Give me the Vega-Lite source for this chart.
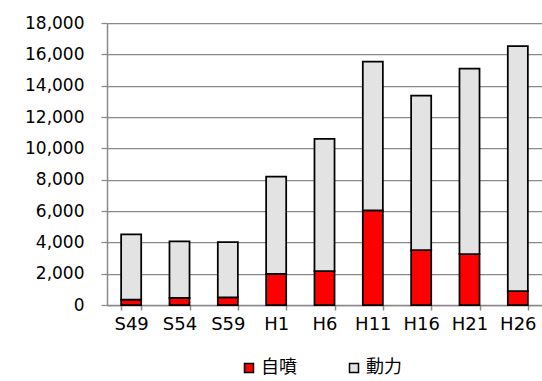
{
  "$schema": "https://vega.github.io/schema/vega-lite/v6.json",
  "width": 435,
  "height": 282,
  "autosize": {"type": "none"},
  "padding": {"left": 107, "top": 23, "right": 0, "bottom": 76},
  "background": "white",
  "data": {
    "values": [
      {"year": "S49", "type": "自噴", "ord": 0, "value": 340},
      {"year": "S49", "type": "動力", "ord": 1, "value": 4170},
      {"year": "S54", "type": "自噴", "ord": 0, "value": 450},
      {"year": "S54", "type": "動力", "ord": 1, "value": 3610},
      {"year": "S59", "type": "自噴", "ord": 0, "value": 490},
      {"year": "S59", "type": "動力", "ord": 1, "value": 3530},
      {"year": "H1", "type": "自噴", "ord": 0, "value": 1980},
      {"year": "H1", "type": "動力", "ord": 1, "value": 6210},
      {"year": "H6", "type": "自噴", "ord": 0, "value": 2170},
      {"year": "H6", "type": "動力", "ord": 1, "value": 8430},
      {"year": "H11", "type": "自噴", "ord": 0, "value": 6040},
      {"year": "H11", "type": "動力", "ord": 1, "value": 9490},
      {"year": "H16", "type": "自噴", "ord": 0, "value": 3510},
      {"year": "H16", "type": "動力", "ord": 1, "value": 9850},
      {"year": "H21", "type": "自噴", "ord": 0, "value": 3250},
      {"year": "H21", "type": "動力", "ord": 1, "value": 11840},
      {"year": "H26", "type": "自噴", "ord": 0, "value": 890},
      {"year": "H26", "type": "動力", "ord": 1, "value": 15640}
    ]
  },
  "mark": {"type": "bar", "stroke": "black", "strokeWidth": 1.75},
  "encoding": {
    "x": {
      "field": "year",
      "type": "nominal",
      "sort": ["S49", "S54", "S59", "H1", "H6", "H11", "H16", "H21", "H26"],
      "scale": {"paddingInner": 0.585, "paddingOuter": 0.2925},
      "axis": {
        "title": null,
        "labelAngle": 0,
        "labelFont": "DejaVu Sans",
        "labelFontSize": 18,
        "labelColor": "black",
        "labelPadding": 5,
        "domainColor": "#898989",
        "domainWidth": 1.5,
        "tickColor": "#898989",
        "tickWidth": 1.5,
        "tickSize": 5,
        "tickBand": "extent"
      }
    },
    "y": {
      "field": "value",
      "type": "quantitative",
      "stack": "zero",
      "scale": {"domain": [0, 18000], "nice": false},
      "axis": {
        "title": null,
        "values": [0, 2000, 4000, 6000, 8000, 10000, 12000, 14000, 16000, 18000],
        "format": ",.0f",
        "labelFont": "DejaVu Sans",
        "labelFontSize": 17,
        "labelColor": "black",
        "labelPadding": 17,
        "grid": true,
        "gridColor": "#898989",
        "gridWidth": 1.25,
        "domainColor": "#898989",
        "domainWidth": 1.5,
        "tickColor": "#898989",
        "tickWidth": 1.25,
        "tickSize": 6
      }
    },
    "color": {
      "field": "type",
      "type": "nominal",
      "scale": {"domain": ["自噴", "動力"], "range": ["#ff0000", "#e3e3e3"]},
      "legend": {
        "title": null,
        "orient": "none",
        "legendX": 133,
        "legendY": 336,
        "direction": "horizontal",
        "padding": 0,
        "symbolType": "square",
        "symbolSize": 81,
        "symbolStrokeColor": "black",
        "symbolStrokeWidth": 1.5,
        "symbolOpacity": 1,
        "labelFont": "Noto Sans CJK JP",
        "labelFontSize": 18,
        "labelColor": "black",
        "labelOffset": 3,
        "columnPadding": 48
      }
    },
    "order": {"field": "ord", "type": "quantitative"}
  },
  "config": {"view": {"stroke": null}}
}
